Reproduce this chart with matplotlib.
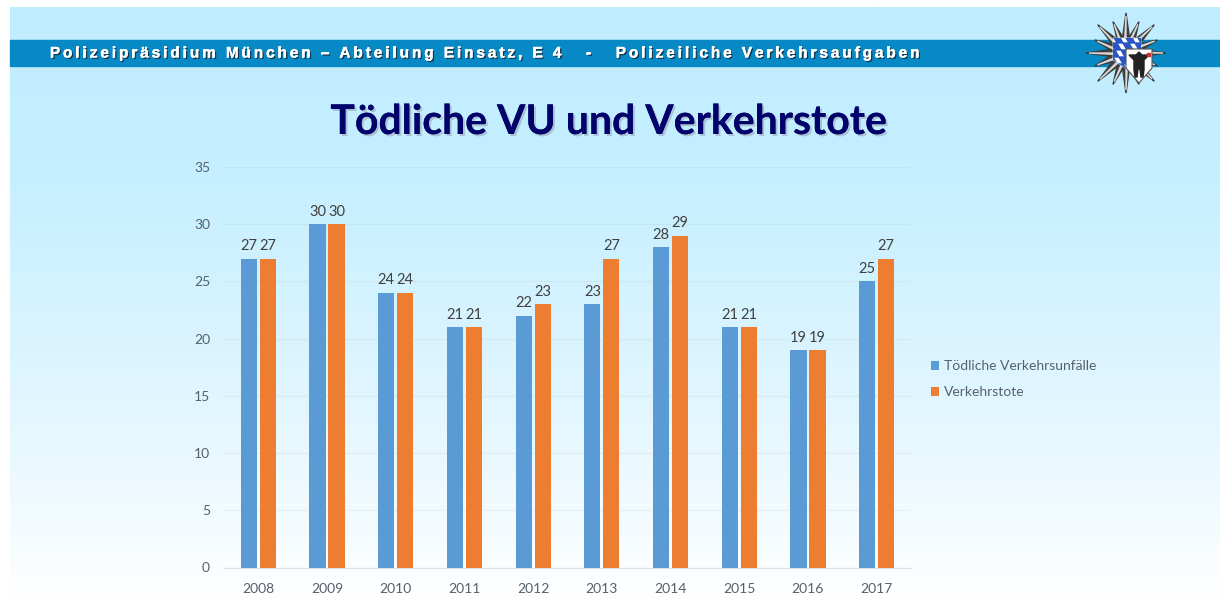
import numpy as np
import matplotlib
matplotlib.use('Agg')
import matplotlib.pyplot as plt
import matplotlib.patheffects as pe
from matplotlib.patches import Polygon, Rectangle, PathPatch, Circle
from matplotlib.path import Path
from matplotlib.colors import LinearSegmentedColormap

years = ['2008', '2009', '2010', '2011', '2012', '2013', '2014', '2015', '2016', '2017']
unfaelle = [27, 30, 24, 21, 22, 23, 28, 21, 19, 25]
tote = [27, 30, 24, 21, 23, 27, 29, 21, 19, 27]
header = 'Polizeipräsidium München – Abteilung Einsatz, E 4   -   Polizeiliche Verkehrsaufgaben'
title = 'Tödliche VU und Verkehrstote'
labels = ['Tödliche Verkehrsunfälle', 'Verkehrstote']

W, H = 1220, 607
BLUE = '#5B9BD5'
ORANGE = '#ED7D31'
TXT = '#56606A'

plt.rcParams['font.family'] = ['Lato', 'DejaVu Sans']

fig = plt.figure(figsize=(W / 100, H / 100), dpi=100, facecolor='white')

# background in pixel coordinates
bg = fig.add_axes([0, 0, 1, 1], zorder=0)
bg.set_xlim(0, W)
bg.set_ylim(H, 0)
bg.axis('off')
cmap = LinearSegmentedColormap.from_list('bg', [(0, '#BFEDFF'), (0.3, '#C6EFFF'), (0.7, '#E4F7FF'), (1, '#FFFFFF')])
bg.imshow(np.linspace(0, 1, 256)[:, None], extent=[10, W, 600, 7], aspect='auto', cmap=cmap, zorder=0)
bg.set_xlim(0, W)
bg.set_ylim(H, 0)
bg.add_patch(Rectangle((10, 40), W - 10, 26, color='#0789C5', zorder=1))


def spaced(s):
    return '\u2009'.join(s)


# header and title
bg.text(50, 53.5, spaced(header), color='white', fontsize=10.9, fontweight='bold', family=['Liberation Sans', 'DejaVu Sans'],
        va='center', ha='left', zorder=3,
        path_effects=[pe.withStroke(linewidth=0.5, foreground='white'),
                      pe.withSimplePatchShadow(offset=(1, -1), shadow_rgbFace='#123', alpha=0.8), pe.Normal()])
bg.text(609, 122.5, title, color='#02026B', fontsize=29.5, fontweight='bold', va='center', ha='center', zorder=3,
        path_effects=[pe.withSimplePatchShadow(offset=(1.5, -1.5), shadow_rgbFace='#9FB0C2', alpha=0.7), pe.Normal()])


def draw_logo(ax, cx, cy):
    # star of rays
    base = np.array([cx, cy])
    ax.add_patch(Circle(base, 17, color='#6E6E6E', zorder=4))
    n = 16
    for i in range(n):
        a = 2 * np.pi * i / n
        r = 40 if i % 2 == 0 else 34
        d = np.array([np.sin(a), -np.cos(a)])
        p = np.array([d[1], -d[0]])
        ax.add_patch(Polygon([base + p * 4.5 + d * 8, base + d * r, base - p * 4.5 + d * 8], color='#3E3E3E', zorder=4))
        ax.add_patch(Polygon([base + p * 1.5 + d * 10, base + d * (r - 3), base + d * 10], color='#D8D8D8', zorder=5))
    # bavarian shield
    clip = Path([(1113, 38), (1141, 38), (1141, 60), (1127, 69), (1113, 60), (1113, 38)])
    shield = PathPatch(clip, facecolor='white', edgecolor='#DDDDDD', lw=0.6, zorder=6)
    ax.add_patch(shield)
    for i in range(-4, 8):
        for j in range(0, 8):
            if (i + j) % 2 == 0:
                x = 1113 + i * 6 + j * 4
                y = 36 + j * 7
                d = Polygon([(x, y), (x + 6, y), (x + 10, y + 7), (x + 4, y + 7)], color='#2A55C5', zorder=7)
                ax.add_patch(d)
                d.set_clip_path(shield)
    # munich shield
    ax.add_patch(PathPatch(Path([(1126, 49), (1152, 49), (1152, 68), (1139, 83), (1126, 68), (1126, 49)]),
                           facecolor='white', edgecolor='#555555', lw=0.8, zorder=8))
    ax.add_patch(Polygon([(1139, 52), (1142, 55), (1149, 55), (1144, 60), (1144, 70), (1143, 77), (1141, 77), (1140, 69),
                          (1138, 69), (1137, 77), (1135, 77), (1134, 70), (1134, 60), (1129, 55), (1136, 55)],
                         color='#222222', zorder=9))
    ax.add_patch(Rectangle((1147, 53), 2.5, 2.5, color='#D03030', zorder=9))


draw_logo(bg, 1126, 53)

# chart, axes placed so that 0..35 and the groups fall on the reference pixels
ax = fig.add_axes([224 / W, 1 - 567.5 / H, 687 / W, 400.5 / H], zorder=2)
ax.patch.set_alpha(0)
x = np.arange(len(years))
width = 0.235
off = 0.138
b1 = ax.bar(x - off, unfaelle, width, color=BLUE, label=labels[0], zorder=3)
b2 = ax.bar(x + off, tote, width, color=ORANGE, label=labels[1], zorder=3)
ax.bar_label(b1, padding=4, fontsize=10.5, color='#404040')
ax.bar_label(b2, padding=4, fontsize=10.5, color='#404040')
ax.set_xlim(-0.5, len(years) - 0.5)
ax.set_ylim(0, 35)
ax.set_yticks(range(0, 36, 5))
ax.set_xticks(x)
ax.set_xticklabels(years)
ax.tick_params(length=0, labelsize=10, labelcolor=TXT)
ax.tick_params(axis='y', pad=10)
ax.tick_params(axis='x', pad=11)
ax.grid(axis='y', color='#909090', alpha=0.1, lw=1, zorder=1)
for s in ax.spines.values():
    s.set_visible(False)
ax.spines['bottom'].set_visible(True)
ax.spines['bottom'].set_color('#DDE4E8')

fig.legend(handles=[b1, b2], labels=labels, loc='upper left', bbox_to_anchor=(918.5 / W, 1 - 348 / H), frameon=False,
           fontsize=10, labelcolor=TXT, handlelength=0.6, handleheight=0.6, handletextpad=0.35, labelspacing=1.0)

fig.savefig('out.png', dpi=100)
